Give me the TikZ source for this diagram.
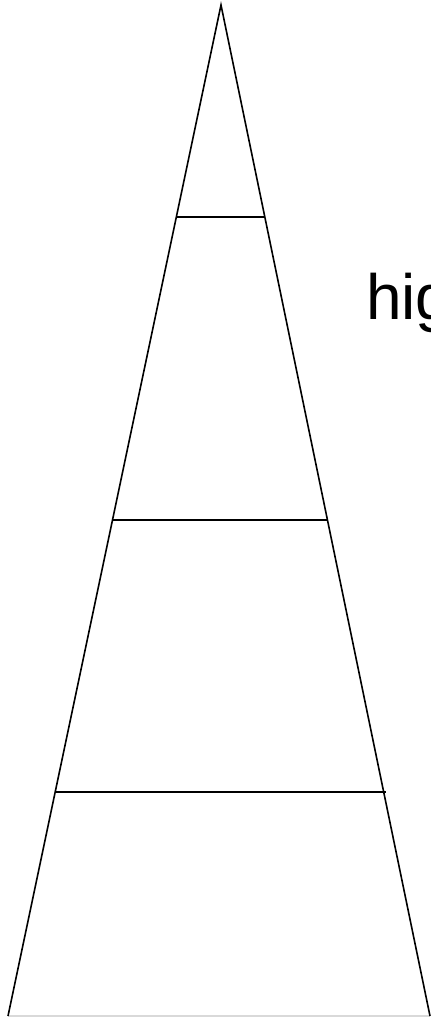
\documentclass[tikz,border=0pt]{standalone}
\usepackage{fontspec}
\setmainfont{Liberation Sans}
\begin{document}
\begin{tikzpicture}[x=1pt,y=-1pt,
  edge/.style={line width=1.6pt,black},
  base/.style={line width=1.6pt,black!15}]
\useasboundingbox (0,0) rectangle (431,1018);
\coordinate (apex) at (221,5);
\coordinate (bl) at (8,1016);
\coordinate (br) at (430,1016);
\coordinate (l1) at (176.3,217); \coordinate (r1) at (264.8,217);
\coordinate (l2) at (113.0,520); \coordinate (r2) at (327.5,520);
\coordinate (l3) at (55.6,792);  \coordinate (r3) at (386.1,792);
\draw[base] (bl) -- (br);
\draw[edge] (bl) -- (apex) -- (br);
\draw[edge] (l1) -- (r1);
\draw[edge] (l2) -- (r2);
\draw[edge] (l3) -- (r3);
\node[anchor=base west,inner sep=0pt,font=\fontsize{64}{70}\selectfont] (lbl) at (366,319) {hig};
\end{tikzpicture}
\end{document}
